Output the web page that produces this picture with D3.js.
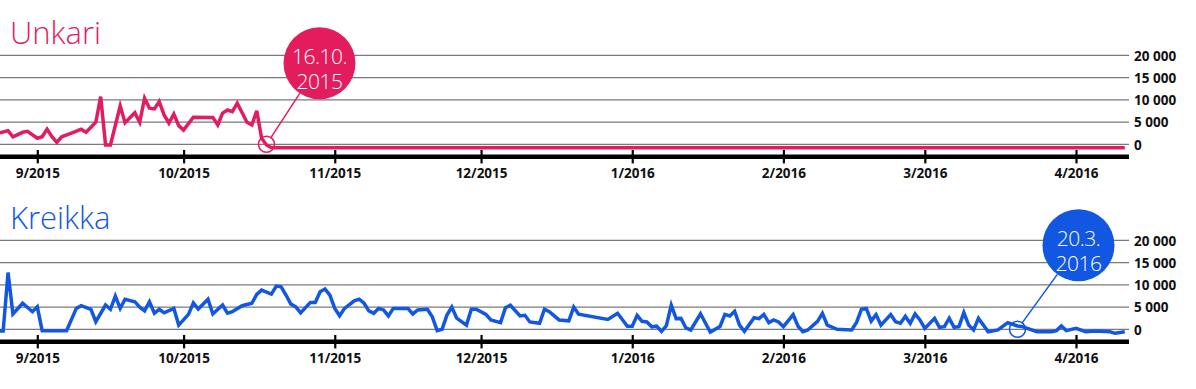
<!DOCTYPE html>
<html><head><meta charset="utf-8">
<script src="https://cdn.jsdelivr.net/npm/d3@7"></script>
<style>body{margin:0;background:#fff}svg{display:block}text{font-family:"Open Sans",sans-serif}</style>
</head><body><svg id="c" width="1196" height="389"></svg>
<script>
// ---- data ----
const monthTickDates = ["2015-09-01","2015-10-01","2015-11-01","2015-12-01","2016-01-01","2016-02-01","2016-03-01","2016-04-01"];
const monthTickLabels = ["9/2015","10/2015","11/2015","12/2015","1/2016","2/2016","3/2016","4/2016"];
const yTickValues = [0, 5000, 10000, 15000, 20000];
const seriesNames = ["Unkari", "Kreikka"];

const unkariDates = ["2015-08-24","2015-08-26","2015-08-27","2015-08-29","2015-08-30","2015-09-01","2015-09-02","2015-09-03","2015-09-04","2015-09-05","2015-09-06","2015-09-08","2015-09-10","2015-09-11","2015-09-13","2015-09-14","2015-09-15","2015-09-16","2015-09-18","2015-09-19","2015-09-21","2015-09-22","2015-09-23","2015-09-24","2015-09-25","2015-09-26","2015-09-27","2015-09-28","2015-09-29","2015-09-30","2015-10-01","2015-10-03","2015-10-07","2015-10-08","2015-10-09","2015-10-10","2015-10-11","2015-10-12","2015-10-14","2015-10-15","2015-10-16","2015-10-17","2015-10-18","2015-10-19","2016-04-11"];
const unkariValues = [2500,3050,1700,2700,2900,1350,1700,3400,1700,450,1700,2500,3400,2700,4950,10700,-150,-150,8600,4850,7100,4950,10350,8100,7950,9600,6600,4750,6800,4200,3200,6100,6050,4350,7000,7700,7350,9250,4950,4350,7550,1350,-150,-750,-750];

const kreikkaDates = ["2015-08-24","2015-08-25","2015-08-26","2015-08-27","2015-08-29","2015-08-31","2015-09-01","2015-09-02","2015-09-07","2015-09-09","2015-09-10","2015-09-12","2015-09-13","2015-09-15","2015-09-16","2015-09-17","2015-09-18","2015-09-19","2015-09-21","2015-09-22","2015-09-23","2015-09-24","2015-09-25","2015-09-26","2015-09-27","2015-09-29","2015-09-30","2015-10-02","2015-10-03","2015-10-04","2015-10-06","2015-10-07","2015-10-09","2015-10-10","2015-10-11","2015-10-13","2015-10-15","2015-10-16","2015-10-17","2015-10-19","2015-10-20","2015-10-21","2015-10-22","2015-10-23","2015-10-24","2015-10-25","2015-10-27","2015-10-28","2015-10-29","2015-10-30","2015-10-31","2015-11-01","2015-11-02","2015-11-03","2015-11-05","2015-11-06","2015-11-07","2015-11-08","2015-11-09","2015-11-10","2015-11-11","2015-11-12","2015-11-13","2015-11-16","2015-11-17","2015-11-18","2015-11-20","2015-11-21","2015-11-22","2015-11-23","2015-11-24","2015-11-25","2015-11-26","2015-11-28","2015-11-29","2015-11-30","2015-12-02","2015-12-03","2015-12-05","2015-12-06","2015-12-07","2015-12-09","2015-12-10","2015-12-11","2015-12-13","2015-12-14","2015-12-15","2015-12-17","2015-12-19","2015-12-20","2015-12-21","2015-12-27","2015-12-29","2015-12-31","2016-01-01","2016-01-02","2016-01-03","2016-01-04","2016-01-05","2016-01-06","2016-01-07","2016-01-08","2016-01-09","2016-01-10","2016-01-11","2016-01-12","2016-01-13","2016-01-15","2016-01-17","2016-01-19","2016-01-20","2016-01-21","2016-01-22","2016-01-23","2016-01-24","2016-01-26","2016-01-27","2016-01-28","2016-01-29","2016-01-30","2016-01-31","2016-02-01","2016-02-03","2016-02-04","2016-02-05","2016-02-06","2016-02-08","2016-02-09","2016-02-10","2016-02-12","2016-02-15","2016-02-16","2016-02-17","2016-02-18","2016-02-19","2016-02-20","2016-02-21","2016-02-23","2016-02-24","2016-02-25","2016-02-26","2016-02-27","2016-02-28","2016-02-29","2016-03-01","2016-03-03","2016-03-04","2016-03-05","2016-03-06","2016-03-07","2016-03-08","2016-03-09","2016-03-10","2016-03-11","2016-03-12","2016-03-14","2016-03-16","2016-03-18","2016-03-20","2016-03-21","2016-03-24","2016-03-25","2016-03-27","2016-03-28","2016-03-29","2016-03-30","2016-04-01","2016-04-03","2016-04-05","2016-04-08","2016-04-09","2016-04-11"];
const kreikkaValues = [-400,-400,12750,3450,5850,3950,5050,-300,-300,4700,5300,4500,1700,5450,4500,7450,4700,6750,6200,4950,4150,6200,3600,4500,3700,4700,950,3350,5950,4550,6750,3450,5450,3600,3950,5300,5850,7850,8800,7900,9700,9550,7700,5650,5050,3700,6050,6050,8450,9050,7700,4700,3050,4700,6400,6750,5850,4150,3600,4700,4350,3000,4700,4700,3450,4350,4500,2800,-300,0,3200,5000,2500,950,4500,4500,3350,2100,1500,4850,5400,3000,3150,1650,1350,4500,3950,2100,1900,5000,3400,2200,3600,700,700,3150,1800,1650,550,700,-450,800,5450,2400,2450,300,-150,3500,-600,650,3350,3000,4050,950,-450,2600,2400,3350,1500,2100,1650,600,3300,700,-550,-150,1800,3600,950,0,-150,1550,4500,4700,1850,3300,950,3300,1700,1350,2900,1350,3450,2100,200,2450,450,600,2450,450,600,3750,950,-150,2450,-550,-150,1500,750,600,-550,-550,-550,-300,750,-300,200,-550,-400,-550,-900,-550];

const markerDates = ["2015-10-18", "2016-03-20"];
const markerValues = [0, 0];
const markerLabels = [["16.10.", "2015"], ["20.3.", "2016"]];

// ---- styles / layout ----
const seriesColors = ["#e31c5e", "#1257e2"];
const bubbleOffsets = [[53, -81], [61, -84]];
const panelTop = [0, 185];

const parse = d3.timeParse("%Y-%m-%d");
const svg = d3.select("#c");
const x = d3.scaleTime().domain([parse("2015-09-01"), parse("2016-04-01")]).range([37.3, 1076]);
const y = d3.scaleLinear().domain([0, 20000]).range([144.3, 55.3]);
const gridRight = 1129;
const fmt = d3.formatLocale({decimal: ",", thousands: " ", grouping: [3], currency: ["", ""]}).format(",");

const seriesData = [
  unkariDates.map((d, i) => ({date: parse(d), value: unkariValues[i]})),
  kreikkaDates.map((d, i) => ({date: parse(d), value: kreikkaValues[i]}))
];

seriesNames.forEach((name, i) => {
  const color = seriesColors[i];
  const g = svg.append("g").attr("transform", `translate(0,${panelTop[i]})`);

  g.append("text").attr("x", 10).attr("y", 44.3).attr("fill", color)
    .attr("font-size", 31).attr("font-weight", 300).text(name);

  g.append("g").selectAll("line").data(yTickValues).join("line")
    .attr("x1", 0).attr("x2", gridRight)
    .attr("y1", d => y(d)).attr("y2", d => y(d))
    .attr("stroke", "#7a7a7a").attr("stroke-width", 1.3);

  const ya = g.append("g").attr("transform", `translate(1134,0)`)
    .call(d3.axisRight(y).tickValues(yTickValues).tickSize(0).tickPadding(0).tickFormat(fmt));
  ya.select(".domain").remove();
  ya.selectAll("text").attr("font-size", 13.5).attr("font-weight", 700).attr("fill", "#111")
    .attr("font-family", "'Open Sans',sans-serif").attr("dy", "0.36em");

  const xa = g.append("g").attr("transform", `translate(0,156.7)`)
    .call(d3.axisBottom(x).tickValues(monthTickDates.map(parse))
      .tickFormat((d, k) => monthTickLabels[k]).tickSize(0));
  xa.select(".domain").remove();
  xa.insert("line", ":first-child").attr("x1", 0).attr("x2", gridRight)
    .attr("stroke", "#000").attr("stroke-width", 4.5);
  xa.selectAll(".tick line").attr("y1", -6.7).attr("y2", 6.7)
    .attr("stroke", "#000").attr("stroke-width", 2.2);
  xa.selectAll(".tick text").attr("y", 16).attr("dy", "0.36em")
    .attr("font-size", 13.5).attr("font-weight", 700).attr("fill", "#111")
    .attr("font-family", "'Open Sans',sans-serif");

  g.append("path").datum(seriesData[i])
    .attr("fill", "none").attr("stroke", color).attr("stroke-width", 3.5)
    .attr("d", d3.line().x(d => x(d.date)).y(d => y(d.value)));

  // annotation
  const mx = x(parse(markerDates[i])), my = y(markerValues[i]);
  const bx = mx + bubbleOffsets[i][0], by = my + bubbleOffsets[i][1];
  const r0 = 8, r1 = 36;
  const dx = bx - mx, dy = by - my, len = Math.hypot(dx, dy);
  g.append("line")
    .attr("x1", mx + dx / len * r0).attr("y1", my + dy / len * r0)
    .attr("x2", bx - dx / len * r1).attr("y2", by - dy / len * r1)
    .attr("stroke", color).attr("stroke-width", 1.5);
  g.append("circle").attr("cx", mx).attr("cy", my).attr("r", r0)
    .attr("fill", "none").attr("stroke", color).attr("stroke-width", 1.5);
  g.append("circle").attr("cx", bx).attr("cy", by).attr("r", r1).attr("fill", color);
  markerLabels[i].forEach((t, k) => {
    g.append("text").attr("text-anchor", "middle").attr("fill", "#fff")
      .attr("font-family", "Lato,'Open Sans',sans-serif").attr("font-weight", 300)
      .attr("font-size", 21).attr("letter-spacing", -0.5)
      .attr("x", bx).attr("y", by + 0.5 + k * 25.5).text(t);
  });
});
</script></body></html>
